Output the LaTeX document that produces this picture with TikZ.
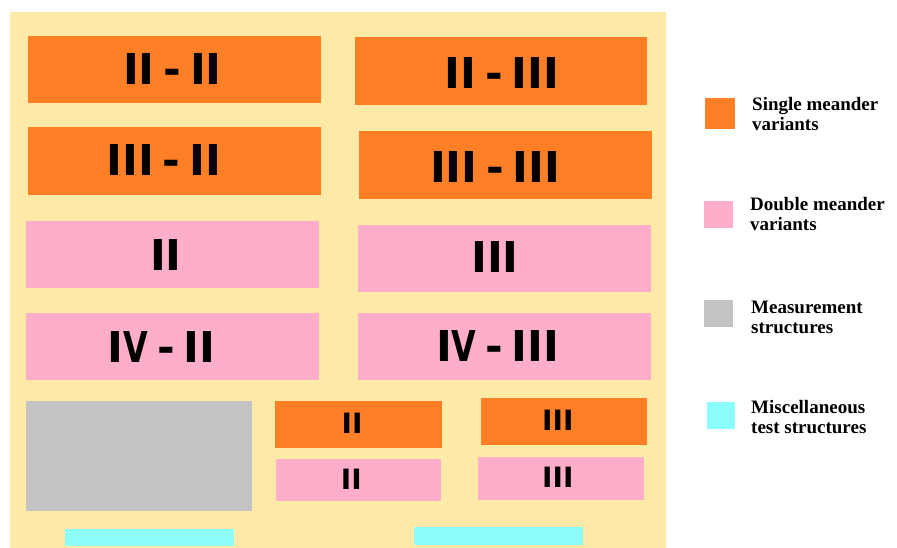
\documentclass[tikz,border=0pt]{standalone}
\usepackage{fontspec}
\setmainfont{Liberation Serif}
\newfontfamily\numfont[WordSpace=0.6]{DejaVu Sans}
\newcommand{\nV}{\scalebox{0.75}[1]{V}}
\definecolor{orangeC}{RGB}{255,127,39}
\definecolor{pinkC}{RGB}{255,174,201}
\definecolor{yellowC}{RGB}{253,234,166}
\definecolor{grayC}{RGB}{195,195,195}
\definecolor{cyanC}{RGB}{140,255,250}
\tikzset{
  blk/.style={inner sep=0pt, outer sep=0pt, draw=none},
  obox/.style={blk, fill=orangeC},
  pbox/.style={blk, fill=pinkC},
  gbox/.style={blk, fill=grayC},
  cbox/.style={blk, fill=cyanC},
  num/.style={inner sep=0pt, font=\numfont\bfseries\fontsize{42.5}{43}\selectfont},
  snum/.style={inner sep=0pt, font=\numfont\bfseries\fontsize{28}{28}\selectfont},
  legtext/.style={anchor=north west, inner sep=0pt, align=left, font=\bfseries\fontsize{19}{20}\selectfont}
}
\begin{document}
\begin{tikzpicture}[x=1pt,y=-1pt]
\useasboundingbox (0,0) rectangle (897,548);
\node[blk, fill=yellowC, minimum width=656pt, minimum height=536pt] (bg) at (338,280) {};
% orange single meander
\node[obox, minimum width=293pt, minimum height=67pt] (b1) at (174.5,69.5) {};
\node[obox, minimum width=292pt, minimum height=68pt] (b2) at (501,71) {};
\node[obox, minimum width=293pt, minimum height=68pt] (b3) at (174.5,161) {};
\node[obox, minimum width=293pt, minimum height=68pt] (b4) at (505.5,165) {};
% pink double meander
\node[pbox, minimum width=293pt, minimum height=67pt] (p1) at (172.5,254.5) {};
\node[pbox, minimum width=293pt, minimum height=67pt] (p2) at (504.5,258.5) {};
\node[pbox, minimum width=293pt, minimum height=67pt] (p3) at (172.5,346.5) {};
\node[pbox, minimum width=293pt, minimum height=67pt] (p4) at (504.5,346.5) {};
% bottom
\node[gbox, minimum width=226pt, minimum height=110pt] (g1) at (139,456) {};
\node[obox, minimum width=167pt, minimum height=47pt] (o5) at (358.5,424.5) {};
\node[pbox, minimum width=165pt, minimum height=42pt] (p5) at (358.5,480) {};
\node[obox, minimum width=166pt, minimum height=47pt] (o6) at (564,421.5) {};
\node[pbox, minimum width=166pt, minimum height=43pt] (p6) at (561,478.5) {};
\node[cbox, minimum width=169pt, minimum height=17pt] (c1) at (149.5,537.5) {};
\node[cbox, minimum width=169pt, minimum height=18pt] (c2) at (498.5,536) {};
% labels
\node[num] (n1) at (172.5,69.5) {II - II};
\node[num] (n2) at (501.8,72.8) {II - III};
\node[num] (n3) at (163.8,160.3) {III - II};
\node[num] (n4) at (495.3,166.7) {III - III};
\node[num] (n5) at (166,255) {II};
\node[num] (n6) at (495,257) {III};
\node[num] (n7) at (161.5,347.5) {I\nV{} - II};
\node[num] (n8) at (497.8,346.2) {I\nV{} - III};
\node[snum] (n9) at (352,423) {II};
\node[snum] (n10) at (351.3,479) {II};
\node[snum] (n11) at (557.8,420.2) {III};
\node[snum] (n12) at (557.8,477.5) {III};
% legend
\node[obox, minimum width=30pt, minimum height=31pt] (l1) at (720,113.5) {};
\node[pbox, minimum width=29pt, minimum height=27pt] (l2) at (718.5,214.5) {};
\node[gbox, minimum width=29pt, minimum height=27pt] (l3) at (718.5,313.5) {};
\node[cbox, minimum width=28pt, minimum height=27pt] (l4) at (721,415.5) {};
\node[legtext] (t1) at (752,97.5) {Single meander\\variants};
\node[legtext] (t2) at (750,197.5) {Double meander\\variants};
\node[legtext] (t3) at (751,300.5) {Measurement\\structures};
\node[legtext] (t4) at (751,400) {Miscellaneous\\test structures};
\end{tikzpicture}
\end{document}
